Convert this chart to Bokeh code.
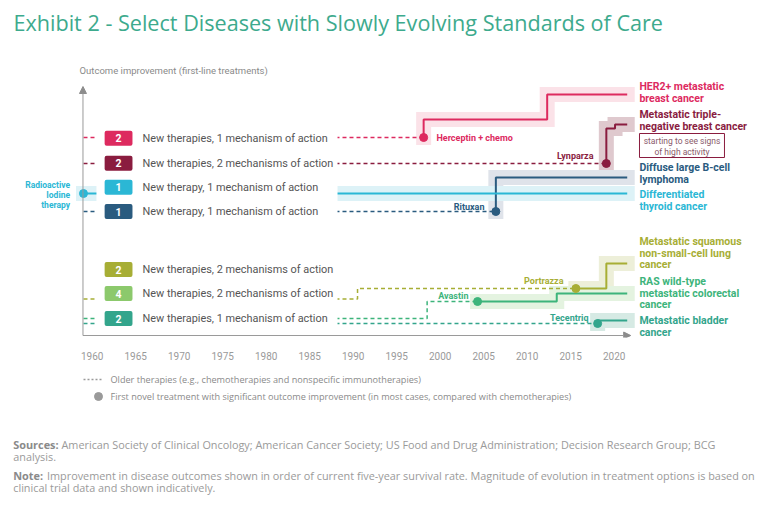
from bokeh.plotting import figure
from bokeh.models import Range1d, FixedTicker, Arrow, NormalHead, ColumnDataSource
from bokeh.layouts import column
from bokeh.embed import file_html
from bokeh.resources import INLINE
from bokeh.core.properties import value

# ---------------- data ----------------
TITLE = "Exhibit 2 - Select Diseases with Slowly Evolving Standards of Care"
Y_TITLE = "Outcome improvement (first-line treatments)"
TICK_YEARS = [1960, 1965, 1970, 1975, 1980, 1985, 1990, 1995, 2000, 2005, 2010, 2015, 2020]

# older therapies (dashed) and novel therapies (solid) as step paths: year / outcome level
HER2_OLD_YEARS = [1959, 1998.1]
HER2_OLD_LEVEL = [200, 200]
HER2_NEW_YEARS = [1998.1, 1998.1, 2012.3, 2012.3, 2021.5]
HER2_NEW_LEVEL = [200, 218, 218, 243, 243]

TN_OLD_YEARS = [1959, 2019.1]
TN_OLD_LEVEL = [174, 174]
TN_NEW_YEARS = [2019.1, 2019.1, 2020.1, 2020.1, 2021.5]
TN_NEW_LEVEL = [174, 209, 209, 213, 213]

LYM_OLD_YEARS = [1959, 2006.4]
LYM_OLD_LEVEL = [126, 126]
LYM_NEW_YEARS = [2006.4, 2006.4, 2021.5]
LYM_NEW_LEVEL = [126, 160, 160]

THY_OLD_YEARS = []
THY_OLD_LEVEL = []
THY_NEW_YEARS = [1959, 2021.5]
THY_NEW_LEVEL = [144, 144]

LUNG_OLD_YEARS = [1959, 1990.5, 1990.5, 2015.6]
LUNG_OLD_LEVEL = [38.5, 38.5, 49, 49]
LUNG_NEW_YEARS = [2015.6, 2019.1, 2019.1, 2021.5]
LUNG_NEW_LEVEL = [49, 49, 74, 74]

CRC_OLD_YEARS = [1959, 1998.5, 1998.5, 2004.3]
CRC_OLD_LEVEL = [19, 19, 36, 36]
CRC_NEW_YEARS = [2004.3, 2013.4, 2013.4, 2021.5]
CRC_NEW_LEVEL = [36, 36, 44, 44]

BLA_OLD_YEARS = [1959, 2018.1]
BLA_OLD_LEVEL = [14, 14]
BLA_NEW_YEARS = [2018.1, 2018.1, 2021.5]
BLA_NEW_LEVEL = [14, 17, 17]

# first novel treatment with significant outcome improvement
FIRST_YEARS = [1998.1, 2019.1, 2006.4, 1959, 2015.6, 2004.3, 2018.1]
FIRST_LEVEL = [200, 174, 126, 144, 49, 36, 14]
DRUG_NAMES = ["Herceptin + chemo", "Lynparza", "Rituxan", "Radioactive\nIodine\ntherapy",
              "Portrazza", "Avastin", "Tecentriq"]

DISEASE_LABELS = [["HER2+ metastatic", "breast cancer"],
                  ["Metastatic triple-", "negative breast cancer"],
                  ["Diffuse large B-cell", "lymphoma"],
                  ["Differentiated", "thyroid cancer"],
                  ["Metastatic squamous", "non-small-cell lung", "cancer"],
                  ["RAS wild-type", "metastatic colorectal", "cancer"],
                  ["Metastatic bladder", "cancer"]]

# legend rows on the left (order top to bottom)
ROW_COUNTS = ["2", "2", "1", "1", "2", "4", "2"]
ROW_TEXTS = ["New therapies, 1 mechanism of action",
             "New therapies, 2 mechanisms of action",
             "New therapy, 1 mechanism of action",
             "New therapy, 1 mechanism of action",
             "New therapies, 2 mechanisms of action",
             "New therapies, 2 mechanisms of action",
             "New therapies, 1 mechanism of action"]

NOTE_TEXT = "starting to see signs\nof high activity"
LEGEND_OLD = "Older therapies (e.g., chemotherapies and nonspecific immunotherapies)"
LEGEND_NEW = "First novel treatment with significant outcome improvement (in most cases, compared with chemotherapies)"
SOURCES_LINES = ["American Society of Clinical Oncology; American Cancer Society; US Food and Drug Administration; Decision Research Group; BCG",
                 "analysis."]
NOTE_LINES = ["Improvement in disease outcomes shown in order of current five-year survival rate. Magnitude of evolution in treatment options is based on",
              "clinical trial data and shown indicatively."]

# ---------------- styles / layout ----------------
FONT = value("Roboto")
FONT2 = value("Open Sans")
C_HER2, C_TN, C_LYM, C_THY = "#DD2A5F", "#8A1C3F", "#2A5B7F", "#2BB7D5"
C_LUNG, C_CRC, C_BLA = "#A7AE35", "#3DB47B", "#33A58C"
SERIES = [
    (HER2_OLD_YEARS, HER2_OLD_LEVEL, HER2_NEW_YEARS, HER2_NEW_LEVEL, C_HER2, "#FBE2E8"),
    (TN_OLD_YEARS, TN_OLD_LEVEL, TN_NEW_YEARS, TN_NEW_LEVEL, C_TN, "#DFC9CE"),
    (LYM_OLD_YEARS, LYM_OLD_LEVEL, LYM_NEW_YEARS, LYM_NEW_LEVEL, C_LYM, "#DFE3EA"),
    (THY_OLD_YEARS, THY_OLD_LEVEL, THY_NEW_YEARS, THY_NEW_LEVEL, C_THY, "#DDF2F7"),
    (LUNG_OLD_YEARS, LUNG_OLD_LEVEL, LUNG_NEW_YEARS, LUNG_NEW_LEVEL, C_LUNG, "#EDEFD9"),
    (CRC_OLD_YEARS, CRC_OLD_LEVEL, CRC_NEW_YEARS, CRC_NEW_LEVEL, C_CRC, "#E4F3E0"),
    (BLA_OLD_YEARS, BLA_OLD_LEVEL, BLA_NEW_YEARS, BLA_NEW_LEVEL, C_BLA, "#D6EAE4"),
]
ROW_COLORS = [C_HER2, C_TN, C_THY, C_LYM, C_LUNG, "#8CC96C", C_BLA]
ROW_Y = [199.3, 174.3, 150.3, 126, 68, 44, 19]
LABEL_COLORS = [C_HER2, C_TN, C_LYM, C_THY, C_LUNG, C_CRC, C_BLA]
LABEL_Y = [251, 223, 169.7, 143, 96, 56, 17]
LABEL_X = 2022.9
LINE_STEP = 11.5

W = 768
p = figure(width=W, height=365, x_range=Range1d(1949.46, 2037.74), y_range=Range1d(0, 337),
           output_backend="svg", toolbar_location=None, y_axis_location=None,
           min_border_left=0, min_border_right=0, min_border_top=0, min_border_bottom=28)
p.outline_line_color = None
p.grid.visible = False
p.xaxis.ticker = FixedTicker(ticks=TICK_YEARS)
p.xaxis.axis_line_color = None
p.xaxis.major_tick_line_color = None
p.xaxis.minor_tick_line_color = None
p.xaxis.major_label_text_font = "Roboto"
p.xaxis.major_label_text_font_size = "10px"
p.xaxis.major_label_text_color = "#9a9a9a"
p.xaxis.major_label_standoff = 8

# bands
for oy, ol, ny, nl, col, band in SERIES:
    p.line(ny, nl, line_width=15, line_color=band, line_cap="square", line_join="miter")
# lines
for oy, ol, ny, nl, col, band in SERIES:
    if oy:
        p.line(oy, ol, line_width=1.5, line_color=col, line_dash="4 3")
    p.line(ny, nl, line_width=2, line_color=col)

# white panel behind the left legend rows
p.quad(left=1960.49, right=1988.2, bottom=9, top=207, fill_color="white", line_color=None)

# count boxes + row texts
rs = ColumnDataSource(dict(y=ROW_Y, c=ROW_COLORS, n=ROW_COUNTS, t=ROW_TEXTS,
                           b=[v - 7.5 for v in ROW_Y], tp=[v + 7.5 for v in ROW_Y]))
p.quad(left=1961.43, right=1964.63, bottom="b", top="tp", fill_color="c", line_color=None,
       border_radius=2, source=rs)
p.text(x=1963.03, y="y", text="n", source=rs, text_color="white", text_font=FONT,
       text_font_size="10.5px", text_font_style="bold", text_align="center", text_baseline="middle")
p.text(x=1965.78, y="y", text="t", source=rs, text_color="#555555", text_font=FONT,
       text_font_size="10.9px", text_align="left", text_baseline="middle")

# markers
p.scatter(FIRST_YEARS, FIRST_LEVEL, size=8, color=[C_HER2, C_TN, C_LYM, C_THY, C_LUNG, C_CRC, C_BLA])

# drug labels
p.text(x=[1999.57], y=[199.3], text=[DRUG_NAMES[0]], text_color=C_HER2, text_font=FONT,
       text_font_size="9px", text_font_style="bold", text_align="left", text_baseline="middle")
p.text(x=[2017.62, 2005.09, 2014.17, 2003.25, 2017.05], y=[182, 130.3, 56.3, 42, 20],
       text=[DRUG_NAMES[i] for i in (1, 2, 4, 5, 6)],
       text_color=[C_TN, C_LYM, C_LUNG, C_CRC, C_BLA], text_font=FONT,
       text_font_size="9px", text_font_style="bold", text_align="right", text_baseline="middle")
iod = DRUG_NAMES[3].split("\n")
p.text(x=[1957.45] * len(iod), y=[153 - 10 * i for i in range(len(iod))], text=iod,
       text_color=C_THY, text_font=FONT, text_font_size="8.5px", text_font_style="bold",
       text_align="right", text_baseline="middle")

# disease labels on the right
lx, ly, lt, lc = [], [], [], []
for lines, y0, c in zip(DISEASE_LABELS, LABEL_Y, LABEL_COLORS):
    for i, s in enumerate(lines):
        lx.append(LABEL_X); ly.append(y0 - i * LINE_STEP); lt.append(s); lc.append(c)
p.text(x=lx, y=ly, text=lt, text_color=lc, text_font=FONT, text_font_size="10.5px",
       text_font_style="bold", text_align="left", text_baseline="middle")

# "starting to see signs" note box
p.quad(left=2022.91, right=2032.68, bottom=180, top=204, fill_color="white",
       line_color=C_TN, line_width=1)
nl = NOTE_TEXT.split("\n")
p.text(x=[2027.8] * 2, y=[197, 186], text=nl, text_color="#8a5a6a", text_font=FONT,
       text_font_size="8.5px", text_align="center", text_baseline="middle")

# axes arrows
p.add_layout(Arrow(end=NormalHead(size=7, fill_color="#8c8c8c", line_color="#8c8c8c"),
                   x_start=1958.94, y_start=2, x_end=2021.9, y_end=2,
                   line_color="#9a9a9a", line_width=1))
p.add_layout(Arrow(end=NormalHead(size=7, fill_color="#8c8c8c", line_color="#8c8c8c"),
                   x_start=1958.94, y_start=2, x_end=1958.94, y_end=251,
                   line_color="#9a9a9a", line_width=1))

# titles
p.text(x=[1950.95], y=[315.3], text=[TITLE], text_color="#3DAA8D", text_font=FONT2,
       text_font_size="21.6px", text_align="left", text_baseline="middle")
p.text(x=[1958.55], y=[267], text=[Y_TITLE], text_color="#8a8a8a", text_font=FONT,
       text_font_size="9.5px", text_align="left", text_baseline="middle")

# ---------------- notes figure ----------------
q = figure(width=W, height=140, x_range=Range1d(0, W), y_range=Range1d(0, 140),
           output_backend="svg", toolbar_location=None, x_axis_location=None,
           y_axis_location=None, min_border=0)
q.outline_line_color = None
q.grid.visible = False
q.line([83, 101], [126, 126], line_color="#9a9a9a", line_width=1.3, line_dash="2 2")
q.scatter([98], [109], size=8, color="#9a9a9a")
q.text(x=[110, 110], y=[126, 109], text=[LEGEND_OLD, LEGEND_NEW], text_color="#8a8a8a",
       text_font=FONT2, text_font_size="9.15px", text_align="left", text_baseline="middle")
q.text(x=[12.7, 12.7], y=[61, 30], text=["Sources:", "Note:"], text_color="#8a8a8a",
       text_font=FONT2, text_font_size="10.9px", text_font_style="bold",
       text_align="left", text_baseline="middle")
q.text(x=[61, 12.7, 46.5, 12.7], y=[61, 49, 30, 18],
       text=[SOURCES_LINES[0], SOURCES_LINES[1], NOTE_LINES[0], NOTE_LINES[1]],
       text_color="#9a9a9a", text_font=FONT2, text_font_size="10.85px",
       text_align="left", text_baseline="middle")

open("out.html", "w").write(file_html(column(p, q), INLINE))
